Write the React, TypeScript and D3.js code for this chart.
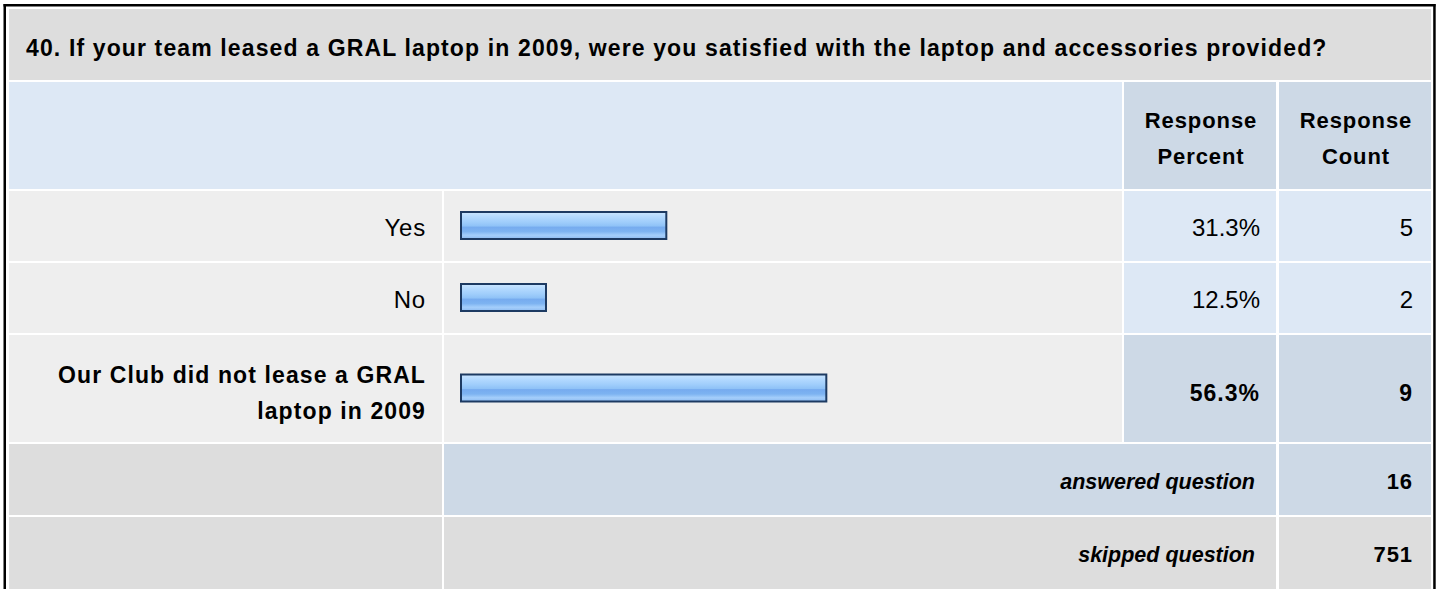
import React from "react";
import * as d3 from "d3";

const questionTitle =
  "40. If your team leased a GRAL laptop in 2009, were you satisfied with the laptop and accessories provided?";
const answerLabels: string[][] = [["Yes"], ["No"], ["Our Club did not lease a GRAL", "laptop in 2009"]];
const responsePercent = [31.3, 12.5, 56.3];
const responseCount = [5, 2, 9];
const headerPercent = ["Response", "Percent"];
const headerCount = ["Response", "Count"];
const summaryLabels = ["answered question", "skipped question"];
const summaryCounts = [16, 751];

const FONT = "'Liberation Sans', Arial, Helvetica, sans-serif";
const C_TITLE = "#dddddd";
const C_HEAD_LIGHT = "#dde8f5";
const C_HEAD_CELL = "#cdd9e6";
const C_ROW = "#eeeeee";
const C_VAL = "#dde8f5";
const C_BAR_STROKE = "#1d3a62";

export default function App() {
  const W = 1437;
  const H = 589;
  // column extents
  const col0 = [9, 442];
  const col1 = [444, 1122];
  const col2 = [1124, 1276];
  const col3 = [1279, 1431];
  const gap = 2;

  const titleRow = [9, 80];
  const headerRow = [82, 189];
  const rowHeights = answerLabels.map((l) => (l.length > 1 ? 107 : 70));
  const rowTops: number[] = [];
  let y = headerRow[1] + gap;
  rowHeights.forEach((h) => {
    rowTops.push(y);
    y += h + gap;
  });
  const summaryTops = [y, y + 71 + gap];
  const summaryH = 71;

  const x = d3.scaleLinear().domain([0, 100]).range([7, 647]);
  const barX0 = col1[0] + 16;
  const maxIdx = d3.maxIndex(responsePercent);
  const fmt = d3.format(".1f");

  return (
    <div style={{ position: "absolute", left: 0, top: 0 }}>
      <svg width={W} height={H} style={{ display: "block", background: "#ffffff" }} fontFamily={FONT}>
        <defs>
          <linearGradient id="barGrad" x1="0" y1="0" x2="0" y2="1">
            <stop offset="0" stopColor="#cbe6ff" />
            <stop offset="0.18" stopColor="#b3d9ff" />
            <stop offset="0.38" stopColor="#9fcdfb" />
            <stop offset="0.52" stopColor="#8fc2f7" />
            <stop offset="0.56" stopColor="#76abef" />
            <stop offset="0.72" stopColor="#7db3f1" />
            <stop offset="0.86" stopColor="#a4cefb" />
            <stop offset="1" stopColor="#8dbaf0" />
          </linearGradient>
        </defs>

        {/* outer border */}
        <rect x={3.5} y={4} width={2.5} height={H} fill="#000" />
        <rect x={3.5} y={4} width={1432} height={2.5} fill="#000" />
        <rect x={1433.2} y={4} width={2.5} height={H} fill="#000" />

        {/* title row */}
        <rect x={col0[0]} y={titleRow[0]} width={col3[1] - col0[0]} height={titleRow[1] - titleRow[0]} fill={C_TITLE} />
        <text x={26} y={56} fontSize={23} fontWeight={700} letterSpacing="1.13px" fill="#000">
          {questionTitle}
        </text>

        {/* header row */}
        <rect x={col0[0]} y={headerRow[0]} width={col1[1] - col0[0]} height={headerRow[1] - headerRow[0]} fill={C_HEAD_LIGHT} />
        <rect x={col2[0]} y={headerRow[0]} width={col2[1] - col2[0]} height={headerRow[1] - headerRow[0]} fill={C_HEAD_CELL} />
        <rect x={col3[0]} y={headerRow[0]} width={col3[1] - col3[0]} height={headerRow[1] - headerRow[0]} fill={C_HEAD_CELL} />
        {[{ c: col2, t: headerPercent }, { c: col3, t: headerCount }].map((h, i) => (
          <text key={i} fontSize={22} fontWeight={700} letterSpacing="0.9px" textAnchor="middle" fill="#000">
            {h.t.map((line, j) => (
              <tspan key={j} x={(h.c[0] + h.c[1]) / 2 + 1} y={127.5 + j * 36.5}>
                {line}
              </tspan>
            ))}
          </text>
        ))}

        {/* answer rows */}
        {answerLabels.map((lines, i) => {
          const top = rowTops[i];
          const h = rowHeights[i];
          const bold = i === maxIdx;
          const valFill = bold ? C_HEAD_CELL : C_VAL;
          const cy = top + h / 2;
          const textBase = lines.length > 1 ? top + 65.5 : top + 44.5;
          const bw = x(responsePercent[i]);
          return (
            <g key={i}>
              <rect x={col0[0]} y={top} width={col0[1] - col0[0]} height={h} fill={C_ROW} />
              <rect x={col1[0]} y={top} width={col1[1] - col1[0]} height={h} fill={C_ROW} />
              <rect x={col2[0]} y={top} width={col2[1] - col2[0]} height={h} fill={valFill} />
              <rect x={col3[0]} y={top} width={col3[1] - col3[0]} height={h} fill={valFill} />
              <text
                textAnchor="end"
                fill="#000"
                fontSize={bold ? 23 : 24}
                fontWeight={bold ? 700 : 400}
                letterSpacing={bold ? "1.1px" : "0.8px"}
              >
                {lines.map((line, j) => (
                  <tspan key={j} x={col0[1] - 16} y={lines.length > 1 ? top + 47.5 + j * 36 : textBase}>
                    {line}
                  </tspan>
                ))}
              </text>
              <rect
                x={barX0 + 1}
                y={cy - 14}
                width={bw - 2}
                height={27}
                fill="url(#barGrad)"
                stroke={C_BAR_STROKE}
                strokeWidth={2}
              />
              <text
                x={col2[1] - 16}
                y={textBase}
                textAnchor="end"
                fontSize={bold ? 23 : 24}
                fontWeight={bold ? 700 : 400}
                letterSpacing={bold ? "1px" : "0px"}
                fill="#000"
              >
                {fmt(responsePercent[i])}%
              </text>
              <text
                x={col3[1] - 18}
                y={textBase}
                textAnchor="end"
                fontSize={bold ? 23 : 24}
                fontWeight={bold ? 700 : 400}
                letterSpacing={bold ? "1px" : "0px"}
                fill="#000"
              >
                {responseCount[i]}
              </text>
            </g>
          );
        })}

        {/* summary rows */}
        {summaryLabels.map((lab, i) => {
          const top = summaryTops[i];
          const h = i === 0 ? summaryH : H - top;
          const midFill = i === 0 ? C_HEAD_CELL : C_TITLE;
          const base = top + 45;
          return (
            <g key={lab}>
              <rect x={col0[0]} y={top} width={col0[1] - col0[0]} height={h} fill={C_TITLE} />
              <rect x={col1[0]} y={top} width={col2[1] - col1[0]} height={h} fill={midFill} />
              <rect x={col3[0]} y={top} width={col3[1] - col3[0]} height={h} fill={midFill} />
              <text
                x={col2[1] - 21}
                y={base}
                textAnchor="end"
                fontSize={21.5}
                fontWeight={700}
                fontStyle="italic"
                letterSpacing="0px"
                fill="#000"
              >
                {lab}
              </text>
              <text
                x={col3[1] - 18}
                y={base}
                textAnchor="end"
                fontSize={22}
                fontWeight={700}
                letterSpacing="0.9px"
                fill="#000"
              >
                {summaryCounts[i]}
              </text>
            </g>
          );
        })}
      </svg>
    </div>
  );
}
